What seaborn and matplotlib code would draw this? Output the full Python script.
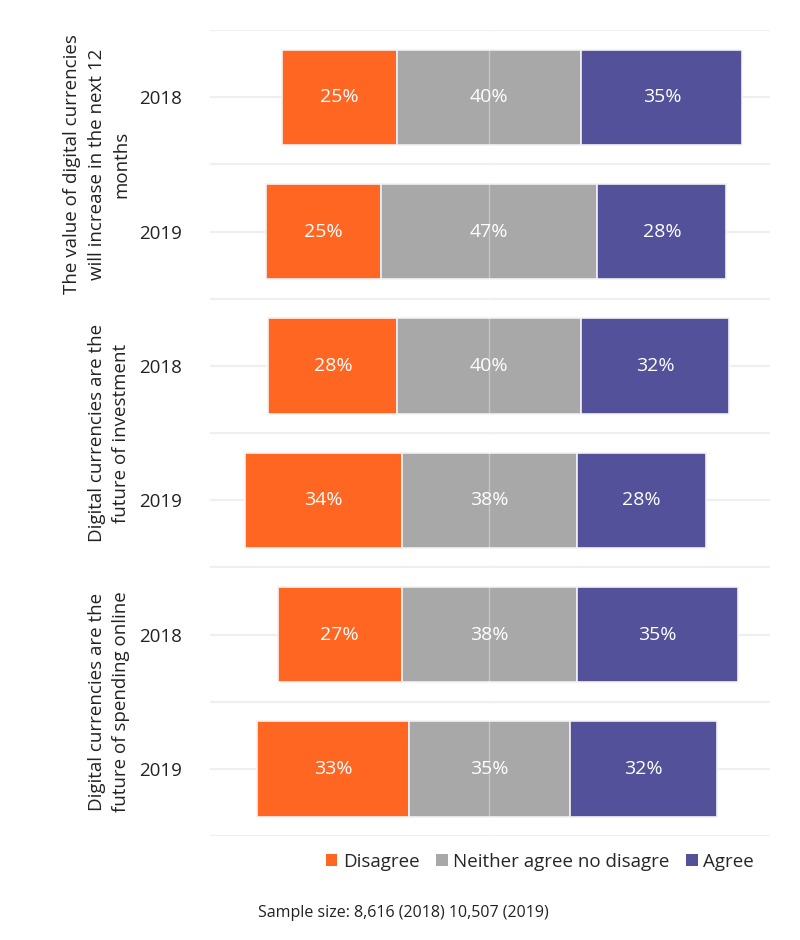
import matplotlib
matplotlib.use("Agg")
import matplotlib.pyplot as plt
from matplotlib.patches import Patch
import seaborn as sns
import numpy as np
import pandas as pd

# ---- data ----
statements = [
    "The value of digital currencies\nwill increase in the next 12\nmonths",
    "Digital currencies are the\nfuture of investment",
    "Digital currencies are the\nfuture of spending online",
]
years = ["2018", "2019", "2018", "2019", "2018", "2019"]
disagree = [25, 25, 28, 34, 27, 33]
neither = [40, 47, 40, 38, 38, 35]
agree = [35, 28, 32, 28, 35, 32]
series_names = ["Disagree", "Neither agree no disagre", "Agree"]
colors = ["#FF6622", "#A8A8A8", "#525199"]
footnote = "Sample size: 8,616 (2018) 10,507 (2019)"

df = pd.DataFrame({"year": years, "Disagree": disagree,
                   "Neither": neither, "Agree": agree})

sns.set_theme(style="white")
plt.rcParams['font.family'] = ['Open Sans', 'DejaVu Sans']

fig = plt.figure(figsize=(8, 9.4), dpi=100)
ax = fig.add_axes([0.2625, 0.1106, 0.70, 0.8574])

ypos = np.arange(len(df))
h = 0.71
half = df["Neither"].values / 2.0
left_dis = -half - df["Disagree"].values
left_agr = half

segs = [(left_dis, df["Disagree"].values, colors[0]),
        (-half, df["Neither"].values, colors[1]),
        (left_agr, df["Agree"].values, colors[2])]
for left, width, col in segs:
    ax.barh(ypos, width, left=left, height=h, color=col,
            edgecolor="#f2f2f2", linewidth=1.2, zorder=2)
    for y, l, w in zip(ypos, left, width):
        ax.text(l + w / 2, y, f"{w}%", ha="center", va="center",
                color="white", fontsize=14, zorder=4)

# faint center line over the grey bars
ax.axvline(0, color="white", alpha=0.35, lw=1.0, zorder=3)

ax.set_xlim(-60.7, 61.0)
ax.set_ylim(len(df) - 0.5, -0.5)
ax.set_yticks(ypos)
ax.set_yticklabels(years, fontsize=13.5, color="#222222")
ax.set_yticks(np.arange(-0.5, len(df) + 0.5, 1.0), minor=True)
ax.set_xticks([])
ax.tick_params(axis="y", which="both", length=0, pad=20)
ax.grid(axis="y", which="both", color="#efefef", lw=1.6, zorder=0)
ax.set_axisbelow(True)
sns.despine(ax=ax, left=True, bottom=True)

# group labels
group_centers_px = [164, 433, 702]
for txt, ypx in zip(statements, group_centers_px):
    fig.text(130 / 800, 1 - ypx / 940, txt, rotation=90, ha="right",
             va="center", multialignment="center", fontsize=13.5,
             linespacing=1.45, color="#222222")

handles = [Patch(facecolor=c, edgecolor="none") for c in colors]
fig.legend(handles, series_names, loc="center", bbox_to_anchor=(0.675, 0.083),
           ncol=3, frameon=False, fontsize=13.5, handlelength=0.6,
           handleheight=0.6, handletextpad=0.3, columnspacing=0.9)

fig.text(258 / 800, 1 - 913 / 940, footnote, ha="left", va="center",
         fontsize=11.5, color="#222222")

fig.savefig("out.png", dpi=100)
